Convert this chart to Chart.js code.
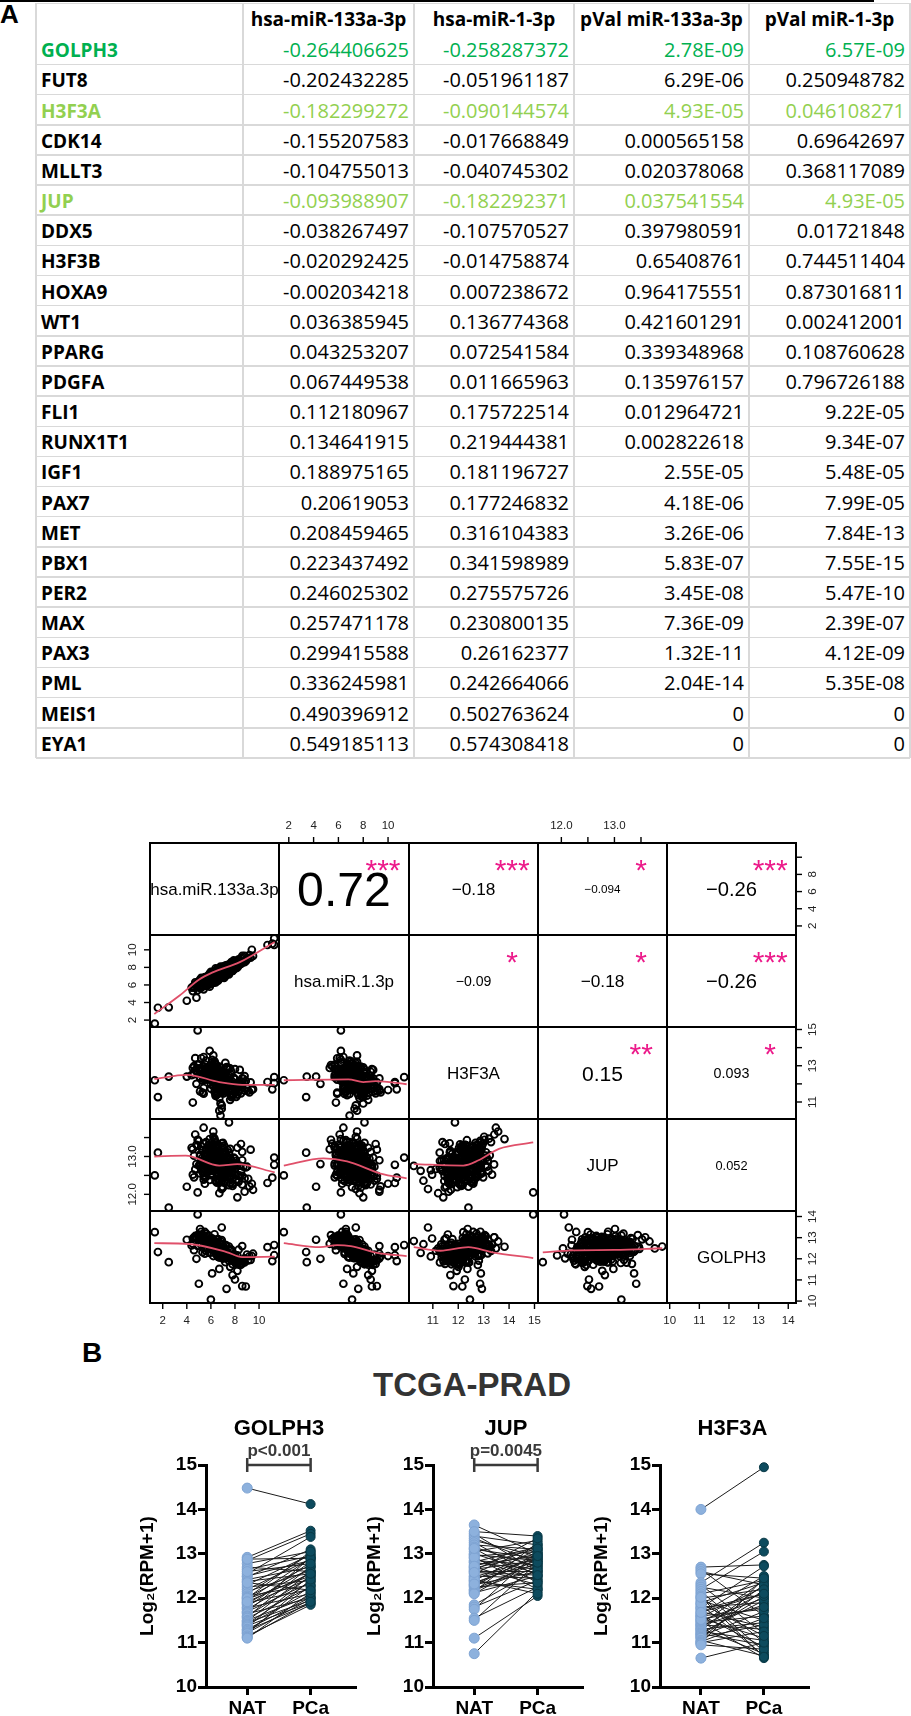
<!DOCTYPE html>
<html>
<head>
<meta charset="utf-8">
<title>miR-133a-3p / miR-1-3p targets</title>
<script src="https://cdn.jsdelivr.net/npm/chart.js@4.4.1/dist/chart.umd.min.js"></script>
<style>
  body { margin: 0; background: #fff; }
  #page { position: relative; width: 911px; height: 1716px; overflow: hidden; background: #fff; }
  #page canvas { position: absolute; }
  .gl { position: absolute; background: #d9d9d9; }
  .cell { position: absolute; font-family: "Open Sans", sans-serif; font-size: 20px; white-space: nowrap; color: #000; }
  .lab { position: absolute; font-family: "Liberation Sans", Arial, sans-serif; font-weight: bold; white-space: nowrap; }
</style>
</head>
<body>
<div id="page">
  <div class="lab" style="left:0;top:1px;font-size:26px;line-height:26px">A</div>
  <div class="lab" style="left:82px;top:1339px;font-size:28px;line-height:28px">B</div>
  <div class="lab" style="left:272px;top:1368px;width:400px;text-align:center;font-size:33px;line-height:33px;color:#333">TCGA-PRAD</div>
</div>
<script>
// ---------- table (panel A) ----------
const tableHead = ['', 'hsa-miR-133a-3p', 'hsa-miR-1-3p', 'pVal miR-133a-3p', 'pVal miR-1-3p'];
const genes = ['GOLPH3','FUT8','H3F3A','CDK14','MLLT3','JUP','DDX5','H3F3B','HOXA9','WT1','PPARG','PDGFA',
  'FLI1','RUNX1T1','IGF1','PAX7','MET','PBX1','PER2','MAX','PAX3','PML','MEIS1','EYA1'];
const r133 = ['-0.264406625','-0.202432285','-0.182299272','-0.155207583','-0.104755013','-0.093988907',
  '-0.038267497','-0.020292425','-0.002034218','0.036385945','0.043253207','0.067449538','0.112180967',
  '0.134641915','0.188975165','0.20619053','0.208459465','0.223437492','0.246025302','0.257471178',
  '0.299415588','0.336245981','0.490396912','0.549185113'];
const r1 = ['-0.258287372','-0.051961187','-0.090144574','-0.017668849','-0.040745302','-0.182292371',
  '-0.107570527','-0.014758874','0.007238672','0.136774368','0.072541584','0.011665963','0.175722514',
  '0.219444381','0.181196727','0.177246832','0.316104383','0.341598989','0.275575726','0.230800135',
  '0.26162377','0.242664066','0.502763624','0.574308418'];
const p133 = ['2.78E-09','6.29E-06','4.93E-05','0.000565158','0.020378068','0.037541554','0.397980591',
  '0.65408761','0.964175551','0.421601291','0.339348968','0.135976157','0.012964721','0.002822618',
  '2.55E-05','4.18E-06','3.26E-06','5.83E-07','3.45E-08','7.36E-09','1.32E-11','2.04E-14','0','0'];
const p1 = ['6.57E-09','0.250948782','0.046108271','0.69642697','0.368117089','4.93E-05','0.01721848',
  '0.744511404','0.873016811','0.002412001','0.108760628','0.796726188','9.22E-05','9.34E-07','5.48E-05',
  '7.99E-05','7.84E-13','7.55E-15','5.47E-10','2.39E-07','4.12E-09','5.35E-08','0','0'];
const highlight = { GOLPH3: '#00B050', H3F3A: '#92D050', JUP: '#92D050' };

// ---------- scatter matrix samples ----------
const varNames = ['hsa.miR.133a.3p', 'hsa.miR.1.3p', 'H3F3A', 'JUP', 'GOLPH3'];
const mir133a = [4.9,1.34,1.6,2.5,4.0,4.8,11.26,11.26,11.1,10.7,9.4,8.6,
  6.2,7.1,5.8,6.9,6.4,7.5,5.5,6.7,8.1,6.0, 7.3,6.6,5.2,7.8,6.3,6.8,5.9,7.0,6.5,8.4,
  4.7,6.1,7.2,6.9,5.6,7.6,6.4,6.2,8.8,5.4, 6.7,7.4,6.0,5.1,7.9,6.6,6.3,7.1,5.7,6.8,
  9.2,6.5,4.9,7.3,6.1,7.7,5.9,6.9,8.2,6.4, 5.3,7.0,6.6,7.5,6.2,5.8,8.0,6.7,4.5,7.2,
  6.3,6.9,5.6,7.8,6.5,6.0,8.6,7.1,5.5,6.8, 7.4,6.1,9.5,6.4,5.2,7.6,6.7,6.2,7.0,5.9,
  8.3,6.5,4.4,7.3,6.8,5.7,7.9,6.3,6.6,7.2, 5.4,8.5,6.9,6.0,7.5,6.4,5.0,7.7,6.1,6.7,
  8.0,5.8,7.1,6.5,4.6,6.9,7.4,6.2,8.9,5.6, 6.8,7.0,6.3,5.3,7.8,6.6,6.0,8.2,7.2,5.9,
  6.4,9.0,6.7,5.1,7.3,6.1,7.6,6.5,5.5,6.9,
  5.9,6.8,7.4,6.1,5.4,7.0,6.6,8.3,6.2,7.7, 6.5,5.6,7.2,6.9,4.8,6.3,7.9,6.0,7.1,5.7,
  8.6,6.7,6.4,5.2,7.5,6.8,6.1,7.3,5.9,9.1, 6.6,7.0,5.5,6.2,8.1,6.9,7.6,4.9,6.4,7.2,
  5.8,6.5,8.4,7.1,6.0,5.3,6.7,7.8,6.3,6.9, 7.4,6.1,5.6,8.0,6.6,7.0,4.6,6.8,7.5,6.2,
  5.9,7.3,6.4,8.7,5.1,6.7,7.1,6.0,7.9,6.5, 6.3,5.7,7.6,6.9,8.2,6.1,5.4,7.2,6.6,7.7,
  4.7,6.8,7.0,6.2,5.8,8.5,6.5,7.4,6.0,5.5, 7.1,6.4,9.3,5.9,6.9,7.5,6.3,5.2,7.8,6.7,
  6.1,7.3,5.6,6.6,8.1,7.0,6.2,4.5,7.6,6.8, 5.7,6.5,7.2,8.8,6.0,6.9,5.3,7.4,6.4,7.9,
  6.7,5.9,7.1,6.3,8.3,5.0,6.6,7.7,6.1,7.0, 6.8,7.5,5.4,6.2,7.3,8.0,6.5,5.8,6.9,7.2,
  6.4,7.6,6.0,5.5,8.6,6.7,7.1,6.3,5.1,7.8];
const mir1 = [6.2,1.6,3.4,3.45,4.2,4.55,11.3,10.55,10.7,10.55,10.0,9.3,
  7.2,7.1,6.7,8.0,6.8,7.2,6.7,7.3,8.1,7.5, 7.2,7.4,6.6,8.1,6.6,8.1,5.8,7.8,7.2,8.4,
  6.1,6.2,8.2,7.1,6.6,7.5,7.9,6.8,9.3,5.5, 7.1,8.2,6.2,6.6,7.8,7.2,7.5,6.8,6.7,7.1,
  9.4,6.5,6.1,8.2,6.6,7.7,7.3,7.3,8.7,6.5, 5.9,8.0,6.8,8.1,7.5,6.0,8.0,7.7,5.3,7.8,
  6.3,7.7,6.9,7.6,7.3,6.6,9.1,7.2,6.3,8.0, 7.3,7.1,9.3,7.1,5.7,8.4,6.7,7.4,7.2,6.8,
  8.2,7.8,5.7,7.6,6.9,6.9,8.3,6.7,7.7,7.1, 6.4,8.4,7.8,6.5,8.2,6.3,6.4,8.0,6.9,6.9,
  8.6,6.4,8.1,6.6,5.8,7.4,7.4,7.5,8.7,6.7, 6.8,7.9,7.1,6.5,8.4,6.9,7.1,8.0,8.0,6.2,
  7.5,8.9,7.5,5.7,7.3,7.2,8.1,6.9,6.9,7.1,
  7.0,6.9,8.0,7.4,5.9,7.6,6.5,8.9,6.7,8.6, 7.1,6.9,7.1,7.7,6.0,6.6,8.8,6.6,8.0,6.0,
  8.6,7.8,6.7,6.8,7.5,7.6,6.2,7.9,6.9,9.1, 7.8,7.2,6.1,7.3,7.9,7.5,8.3,5.4,7.2,7.0,
  7.1,6.7,8.8,7.5,7.3,5.9,7.7,7.6,7.0,7.7, 7.6,7.1,5.9,8.7,6.9,8.1,5.7,7.0,8.1,6.3,
  6.8,8.2,6.8,8.6,6.5,6.8,7.9,6.8,7.8,7.7, 6.7,6.9,7.8,7.9,8.4,6.2,6.5,7.8,6.8,8.3,
  6.3,7.2,7.9,6.4,6.7,9.0,6.8,8.3,6.5,6.7, 7.2,7.2,9.1,6.5,8.0,7.4,7.3,5.9,8.3,7.0,
  7.3,7.4,6.6,7.6,8.2,6.9,7.2,5.8,7.6,7.5, 6.2,7.6,7.6,8.6,6.9,7.2,6.6,8.1,6.5,8.3,
  7.6,6.2,7.8,6.9,8.9,5.7,7.8,7.6,6.8,7.9, 6.8,8.1,6.3,7.4,7.5,8.5,6.7,6.9,7.2,8.1,
  6.9,8.3,6.4,6.8,8.6,7.5,7.1,7.4,5.8,8.2];
const h3f3a = [14.95,12.2,11.27,12.4,12.4,12.0,12.37,12.04,11.7,12.1,11.66,12.3,
  12.41,12.03,12.68,11.92,12.27,11.64,13.08,12.19,11.83,12.52, 12.12,12.61,12.87,11.73,12.34,11.98,12.79,11.47,12.43,11.91,
  13.42,12.18,11.84,12.49,12.72,12.01,11.33,12.58,11.62,12.97, 12.29,11.88,12.83,12.37,11.42,12.09,13.21,11.79,12.54,12.22,
  11.53,12.69,12.57,12.04,12.91,11.68,12.31,10.63,11.94,12.39, 12.82,11.58,12.24,11.87,13.57,12.47,11.99,11.21,12.88,12.33,
  12.14,12.63,13.29,11.38,12.21,12.74,11.81,12.44,12.59,10.92, 11.97,12.51,11.71,12.28,12.84,11.12,12.36,13.02,11.89,12.62,
  11.61,12.23,12.48,12.93,10.25,12.78,11.86,12.32,12.07,11.74, 13.48,12.02,11.57,12.71,12.17,12.42,12.86,11.27,12.64,11.82,
  12.26,12.73,11.49,12.11,12.53,10.81,12.06,12.77,12.16,12.38, 11.93,12.19,13.12,12.56,11.69,12.3,12.46,11.41,12.0,13.82,
  12.67,11.78,10.52,12.35,12.13,12.89,11.63,12.26,12.6,11.96,
  12.58,11.74,12.91,12.13,11.46,12.37,12.82,11.93,12.24,12.67, 11.81,12.49,13.16,12.02,12.73,11.56,12.31,12.88,11.67,12.44,
  12.09,12.96,11.38,12.53,12.21,11.89,13.33,12.16,12.71,11.62, 12.84,11.97,12.39,12.62,11.28,12.27,12.05,13.04,11.78,12.46,
  12.33,11.69,12.77,12.19,12.93,11.52,12.41,12.11,13.24,11.86, 11.92,12.56,12.23,12.81,11.44,12.68,12.98,12.07,11.73,12.35,
  12.62,11.83,13.09,12.28,11.59,12.45,12.15,12.74,11.96,12.52, 12.18,12.87,11.64,12.4,12.03,13.19,11.77,12.29,12.64,11.35,
  12.76,12.12,12.49,11.87,12.58,11.48,12.94,12.25,11.99,12.69, 11.71,12.36,12.08,12.83,11.55,12.21,12.66,13.41,12.01,11.8,
  12.47,11.9,12.72,12.14,11.63,12.55,12.32,10.97,12.85,12.1, 12.27,12.61,11.76,12.43,12.95,11.66,12.18,12.79,11.45,12.34,
  11.84,12.7,12.06,12.51,11.58,13.07,12.39,11.95,12.63,12.2, 12.89,11.68,12.26,12.97,12.04,11.51,12.75,12.3,11.82,12.57,
  12.15,12.42,11.73,12.86,11.94,12.6,12.0,13.14,12.37,11.61];
const jup = [12.05,12.5,13.1,11.65,12.2,12.8,12.97,12.78,12.44,12.3,12.28,12.9,
  12.93,12.57,13.14,12.68,13.31,12.46,13.02,12.84,12.39,13.22, 12.71,13.05,12.88,12.27,13.43,12.62,13.09,12.18,12.95,12.76,
  13.58,12.81,12.53,12.99,13.17,12.44,12.66,12.92,12.07,13.34, 12.63,12.48,13.24,13.01,12.79,12.86,13.47,12.32,12.83,12.72,
  12.21,13.12,13.28,12.58,12.94,12.69,13.04,12.36,12.77,13.08, 12.97,12.42,12.91,13.9,13.66,13.13,12.82,12.03,13.19,12.87,
  12.74,13.03,13.38,12.61,12.78,13.21,12.49,12.89,12.28,12.64, 12.85,13.11,12.12,12.93,13.27,12.67,12.98,13.52,12.59,12.9,
  12.33,12.8,13.23,12.56,12.75,13.06,12.73,12.87,13.32,12.47, 13.76,12.6,12.96,13.1,12.24,12.84,13.41,12.7,13.0,12.38,
  12.52,13.18,12.79,12.91,13.02,12.14,12.65,13.29,12.71,13.07, 12.88,12.43,12.97,13.16,12.82,12.55,13.13,11.92,12.69,13.46,
  13.09,12.73,12.62,12.81,12.51,13.37,12.29,12.99,12.86,12.19,
  12.94,12.61,13.17,12.72,12.49,13.08,12.83,12.36,13.25,12.77, 12.58,13.02,12.89,12.43,13.31,12.68,12.97,12.54,13.12,12.81,
  12.26,12.92,13.38,12.65,12.85,13.05,12.52,12.99,12.74,12.41, 13.21,12.79,12.57,13.1,12.88,12.34,12.96,13.44,12.63,12.9,
  12.71,13.15,12.47,12.86,13.27,12.59,12.8,12.22,13.03,12.76, 12.95,12.5,13.19,12.67,12.91,13.36,12.45,12.84,12.6,13.07,
  12.38,12.87,13.11,12.73,12.55,12.99,13.29,12.64,12.82,12.31, 13.06,12.7,12.93,12.48,13.23,12.62,12.78,13.14,12.4,12.89,
  12.66,13.01,12.53,12.97,12.75,13.33,12.58,12.85,13.09,12.44, 12.83,12.37,13.18,12.69,12.92,12.56,13.04,12.79,12.29,12.98,
  13.13,12.74,12.46,13.26,12.81,12.61,12.95,12.52,13.2,12.7, 12.57,12.9,13.07,12.42,12.86,13.35,12.68,12.99,12.35,12.8,
  12.97,12.63,12.84,13.16,12.51,12.76,13.02,12.47,12.91,13.24, 12.72,13.1,12.39,12.88,12.6,12.94,12.54,13.3,12.78,12.65,
  13.0,12.45,12.87,12.69,13.12,12.33,12.96,12.73,13.05,12.58];
const golph3 = [14.1,13.26,12.32,11.84,12.9,12.0,12.65,12.17,11.89,12.55,12.13,12.6,
  12.72,12.31,12.88,12.18,12.63,12.04,13.07,12.42,11.81,12.79, 12.13,12.52,13.28,11.74,12.57,12.36,12.83,12.22,12.91,11.93,
  13.02,12.64,12.27,12.48,13.19,11.62,12.68,12.39,12.02,12.94, 12.33,12.17,12.81,13.41,11.88,12.59,12.47,12.08,12.74,12.44,
  12.12,12.78,12.61,12.29,12.97,12.01,12.53,12.69,11.43,12.23, 12.86,12.41,12.09,12.58,12.82,13.11,12.19,12.49,12.71,11.84,
  12.62,12.89,12.37,12.21,12.32,12.73,10.71,12.54,13.27,12.11, 12.03,12.46,12.24,12.77,12.67,12.38,11.52,12.92,12.56,12.28,
  12.43,12.18,12.63,10.58,12.84,12.51,12.14,13.16,12.37,12.66, 12.49,11.72,12.34,12.87,11.91,12.61,10.82,12.44,12.7,12.06,
  11.02,12.79,12.22,12.59,12.41,13.48,12.26,12.13,10.69,12.73, 12.52,12.01,12.68,12.31,11.23,12.93,10.07,12.16,12.39,12.57,
  12.81,12.2,12.28,12.96,12.62,11.31,12.42,12.47,12.24,12.64,
  12.76,12.39,12.18,12.62,12.91,12.28,12.54,11.96,12.69,12.12, 12.47,12.83,12.26,12.35,12.98,12.58,11.87,12.72,12.21,12.88,
  11.78,12.44,12.6,13.06,12.09,12.37,12.67,12.19,12.81,11.92, 12.51,12.31,12.94,12.63,11.83,12.42,12.14,13.12,12.56,12.27,
  12.85,12.5,11.71,12.24,12.77,12.97,12.45,12.02,12.61,12.38, 12.16,12.66,12.89,11.91,12.48,12.33,13.02,12.41,12.11,12.7,
  12.79,12.22,12.57,11.86,13.15,12.46,12.28,12.73,11.98,12.52, 12.59,12.87,12.13,12.4,11.82,12.68,12.93,12.25,12.49,12.07,
  13.08,12.36,12.3,12.64,12.82,11.76,12.53,12.17,12.71,12.9, 12.26,12.58,11.95,12.78,12.39,12.1,12.62,13.01,11.99,12.44,
  12.69,12.2,12.86,12.5,11.88,12.32,12.65,12.96,12.15,12.41, 12.84,12.53,12.24,11.83,12.74,12.37,12.99,12.19,12.57,11.94,
  12.47,12.8,12.27,12.61,11.9,13.04,12.52,12.06,12.68,12.33, 12.43,12.12,12.92,12.63,12.23,11.97,12.55,12.79,12.38,12.25,
  12.59,12.14,12.75,12.88,11.8,12.46,12.29,12.6,12.97,12.03];
const vars = [mir133a, mir1, h3f3a, jup, golph3];

// smoother lines: [x, y]
const smooth_1_0 = [[1.3,2.7],[3.4,4.8],[5,6.6],[6.1,7.4],[8.4,8.6],[11.3,10.9]];
const smooth_2_0 = [[1.3,12.27],[4.0,12.5],[6.7,12.1],[8.6,11.95],[11.3,11.95]];
const smooth_2_1 = [[1.6,12.2],[6.8,12.25],[8.0,12.1],[9.0,12.15],[11.5,11.98]];
const smooth_3_0 = [[1.3,13.0],[3.9,13.02],[6.7,12.76],[8.2,12.8],[11.3,12.58]];
const smooth_3_1 = [[1.6,12.76],[4.8,12.95],[6.7,12.87],[9.4,12.55],[11.5,12.42]];
const smooth_3_2 = [[10.25,12.8],[12.2,12.76],[12.8,12.9],[13.6,13.2],[14.95,13.37]];
const smooth_4_0 = [[1.3,12.74],[4.2,12.7],[7.3,12.32],[8.6,12.08],[11.3,12.1]];
const smooth_4_1 = [[1.6,12.74],[4.5,12.55],[5.9,12.65],[7.0,12.6],[9.2,12.27],[11.5,12.13]];
const smooth_4_2 = [[10.25,12.55],[11.3,12.38],[12.4,12.55],[13.3,12.32],[14.95,12.03]];
const smooth_4_3 = [[11.65,12.3],[12.2,12.4],[13.0,12.42],[13.9,12.5]];
const smoothers = { '1,0': smooth_1_0, '2,0': smooth_2_0, '2,1': smooth_2_1, '3,0': smooth_3_0, '3,1': smooth_3_1,
  '3,2': smooth_3_2, '4,0': smooth_4_0, '4,1': smooth_4_1, '4,2': smooth_4_2, '4,3': smooth_4_3 };

const corrPairs = [[0,1],[0,2],[0,3],[0,4],[1,2],[1,3],[1,4],[2,3],[2,4],[3,4]];
const corrVal = [0.72, -0.18, -0.094, -0.26, -0.09, -0.18, -0.26, 0.15, 0.093, 0.052];
const corrStars = ['***', '***', '*', '***', '*', '*', '***', '**', '*', ''];

const tickVals = [[2,4,6,8,10], [2,4,6,8,10], [11,12,13,14,15], [12,12.5,13,13.5], [10,11,12,13,14]];
const tickTextH = [['2','4','6','8','10'], ['2','4','6','8','10'], ['11','12','13','14','15'], ['12.0','','13.0',''], ['10','11','12','13','14']];
const tickTextV = [['2','4','6','8',''], ['2','4','6','8','10'], ['11','','13','','15'], ['12.0','','13.0',''], ['10','11','12','13','14']];

// ---------- paired plots (panel B) ----------
const groups = ['NAT', 'PCa'];
const bGenes = ['GOLPH3', 'JUP', 'H3F3A'];
const bPvals = ['p<0.001', 'p=0.0045', ''];
const golph3NAT = [14.48,12.92,12.85,12.78,12.7,12.65,12.55,12.5,12.48,12.42,12.38,12.3,12.25,12.2,12.15,12.1,12.05,12.02,
  11.98,11.95,11.9,11.88,11.85,11.8,11.78,11.75,11.7,11.68,11.65,11.6,11.58,11.55,11.5,11.48,11.45,11.42,11.4,11.38,11.35,
  11.3,11.28,11.25,11.22,11.2,11.15,11.12,11.1,12.88,12.6,12.35,12.0,11.92];
const golph3PCa = [14.12,13.52,13.45,13.05,12.6,12.95,13.38,12.85,13.1,12.7,12.55,12.98,12.4,12.88,12.62,13.0,12.3,12.75,
  12.5,12.9,12.2,12.68,12.45,12.82,12.1,12.58,12.35,12.92,12.0,12.48,12.72,12.25,12.05,12.6,11.95,12.38,12.15,11.9,12.52,
  12.02,11.88,12.28,11.98,12.42,11.85,11.92,12.12,12.9,12.78,12.18,13.05,12.55];
const jupNAT = [13.65,13.45,13.4,13.35,13.3,13.25,13.2,13.15,13.1,13.05,13.0,12.98,12.95,12.9,12.85,12.82,12.8,12.75,12.7,
  12.68,12.65,12.6,12.55,12.5,12.48,12.45,12.4,12.38,12.35,12.3,12.28,12.25,12.2,12.18,12.15,12.12,12.1,11.85,11.8,11.75,
  11.55,11.5,11.1,10.75,13.5,12.92,12.62,12.42,13.12,12.72,12.32,12.58];
const jupPCa = [13.0,12.6,13.2,12.8,12.95,12.5,13.1,12.7,12.9,13.3,12.55,12.85,13.05,12.4,12.75,13.15,12.65,12.95,12.3,13.0,
  12.85,12.6,13.2,12.45,12.9,12.75,13.1,12.2,12.85,12.6,13.0,12.35,12.8,12.7,13.25,12.5,12.9,12.65,12.4,13.05,12.25,12.8,
  12.05,12.15,13.4,12.2,13.35,12.1,12.35,13.12,12.95,12.52];
const h3f3aNAT = [14.0,12.7,12.65,12.6,12.55,12.35,12.3,12.25,12.2,12.15,12.1,12.05,12.0,11.95,11.9,11.85,11.8,11.75,11.7,
  11.65,11.62,11.6,11.58,11.55,11.5,11.48,11.45,11.42,11.4,11.38,11.35,11.32,11.3,11.28,11.25,11.22,11.2,11.18,11.15,11.12,
  11.1,11.05,11.02,11.0,10.98,10.95,10.65,11.78,11.52,11.88,12.02,11.68];
const h3f3aPCa = [14.95,12.75,11.6,12.3,12.45,13.25,11.2,12.0,13.05,11.0,12.4,10.8,12.2,11.5,12.35,10.7,11.9,12.1,11.35,12.5,
  10.9,11.75,12.25,11.1,12.0,10.65,11.6,12.4,11.3,11.85,12.15,10.75,11.45,12.3,11.05,11.95,10.95,12.05,11.7,11.4,12.2,10.7,
  11.55,11.25,12.45,10.85,11.0,12.72,11.8,11.15,10.68,12.1];
const bNAT = [golph3NAT, jupNAT, h3f3aNAT];
const bPCa = [golph3PCa, jupPCa, h3f3aPCa];

// ---------- page helpers ----------
const page = document.getElementById('page');
Chart.defaults.font.family = '"Liberation Sans", Arial, sans-serif';
Chart.defaults.animation = false;

function addDiv(cls, css, text) {
  const d = document.createElement('div');
  if (cls) d.className = cls;
  for (const k in css) d.style[k] = typeof css[k] === 'number' ? css[k] + 'px' : css[k];
  if (text !== undefined) d.textContent = text;
  page.appendChild(d);
  return d;
}
function mkCanvas(left, top, w, h) {
  const c = document.createElement('canvas');
  c.width = w; c.height = h;
  Object.assign(c.style, { left: left + 'px', top: top + 'px', width: w + 'px', height: h + 'px' });
  page.appendChild(c);
  return c;
}

// ---------- table ----------
const colEdge = [36, 243, 414, 574, 749, 910];
const rowTop = 34.3, rowH = 30.15;
const tableBottom = rowTop + genes.length * rowH;
addDiv('gl', { left: 36, top: 2.5, width: 874, height: 1.5 });
for (let i = 1; i <= genes.length; i++) addDiv('gl', { left: 36, top: rowTop + i * rowH - 0.75, width: 874, height: 1.5 });
colEdge.forEach(x => addDiv('gl', { left: x - 0.75, top: 2.5, width: 1.5, height: tableBottom - 2.5 }));
addDiv('', { left: 36, top: 32.3, width: 874, height: 2.2, background: '#000' });

tableHead.forEach((t, c) => {
  if (!t) return;
  addDiv('cell', { left: colEdge[c], top: 4.5, width: colEdge[c + 1] - colEdge[c], height: 28, lineHeight: '28px',
    textAlign: 'center', fontWeight: 'bold', fontSize: '19px' }, t);
});
const tableCols = [genes, r133, r1, p133, p1];
genes.forEach((g, i) => {
  const top = rowTop + i * rowH + 1;
  const color = highlight[g] || '#000';
  tableCols.forEach((col, c) => {
    const css = { top: top, height: rowH, lineHeight: rowH + 'px', color: color };
    if (c === 0) Object.assign(css, { left: colEdge[0] + 5, fontWeight: 'bold', fontSize: '19px' });
    else Object.assign(css, { left: colEdge[c], width: colEdge[c + 1] - colEdge[c] - 5, textAlign: 'right' });
    addDiv('cell', css, col[i]);
  });
});

// ---------- scatter matrix ----------
const M = 34;
const colX = [150, 279, 409, 538, 667, 796];
const rowY = [843, 935, 1027, 1119, 1211, 1303];
function range(v) {
  const lo = Math.min(...v), hi = Math.max(...v), pad = (hi - lo) * 0.04;
  return [lo - pad, hi + pad];
}
const ranges = vars.map(range);

const panelDeco = {
  id: 'panelDeco',
  afterDatasetsDraw(chart, args, o) {
    const { ctx, chartArea: a, scales } = chart;
    const W = a.right - a.left, H = a.bottom - a.top;
    const cx = (a.left + a.right) / 2, cy = (a.top + a.bottom) / 2;
    ctx.save();
    ctx.strokeStyle = '#000'; ctx.lineWidth = 2;
    ctx.strokeRect(a.left, a.top, W, H);
    ctx.fillStyle = '#000'; ctx.textAlign = 'center'; ctx.textBaseline = 'alphabetic';
    if (o.name) {
      ctx.font = '17px "Liberation Sans"';
      ctx.fillText(o.name, cx, cy + 6);
    }
    if (o.corrLabel) {
      ctx.font = '100px "Liberation Sans"';
      const fs = 100 * (0.92 * (Math.abs(o.corr) + 0.3) / 1.3 * W) / ctx.measureText(o.corrLabel).width;
      ctx.font = fs.toFixed(1) + 'px "Liberation Sans"';
      ctx.fillText(o.corrLabel, cx, cy + 0.358 * fs);
      if (o.star) {
        ctx.fillStyle = '#EC1A8A';
        ctx.font = '30px "Liberation Sans"';
        ctx.fillText(o.star, a.left + 0.8 * W, a.top + 20 + 0.58 * 30);
      }
    }
    (o.axes || []).forEach(ax => {
      const horiz = ax.side === 'top' || ax.side === 'bottom';
      const sc = horiz ? scales.x : scales.y;
      const vals = tickVals[ax.v], labs = (horiz ? tickTextH : tickTextV)[ax.v];
      ctx.strokeStyle = '#000'; ctx.lineWidth = 1.4; ctx.fillStyle = '#222';
      ctx.font = '11.5px "Liberation Sans"'; ctx.textBaseline = 'middle'; ctx.textAlign = 'center';
      vals.forEach((v, i) => {
        const p = sc.getPixelForValue(v);
        ctx.beginPath();
        if (ax.side === 'top') { ctx.moveTo(p, a.top); ctx.lineTo(p, a.top - 6); }
        if (ax.side === 'bottom') { ctx.moveTo(p, a.bottom); ctx.lineTo(p, a.bottom + 6); }
        if (ax.side === 'left') { ctx.moveTo(a.left, p); ctx.lineTo(a.left - 6, p); }
        if (ax.side === 'right') { ctx.moveTo(a.right, p); ctx.lineTo(a.right + 6, p); }
        ctx.stroke();
        if (!labs[i]) return;
        if (horiz) {
          ctx.fillText(labs[i], p, ax.side === 'top' ? a.top - 17 : a.bottom + 18);
        } else {
          ctx.save();
          ctx.translate(ax.side === 'left' ? a.left - 17 : a.right + 17, p);
          ctx.rotate(-Math.PI / 2);
          ctx.fillText(labs[i], 0, 0);
          ctx.restore();
        }
      });
    });
    ctx.restore();
  }
};

for (let r = 0; r < 5; r++) {
  for (let c = 0; c < 5; c++) {
    const x0 = colX[c], y0 = rowY[r], w = colX[c + 1] - x0, h = rowY[r + 1] - y0;
    const cv = mkCanvas(x0 - M, y0 - M, w + 2 * M, h + 2 * M);
    const deco = { axes: [] };
    if (r === 0 && c % 2 === 1) deco.axes.push({ side: 'top', v: c });
    if (r === 4 && c % 2 === 0) deco.axes.push({ side: 'bottom', v: c });
    if (c === 0 && r % 2 === 1) deco.axes.push({ side: 'left', v: r });
    if (c === 4 && r % 2 === 0) deco.axes.push({ side: 'right', v: r });
    const datasets = [];
    if (r === c) deco.name = varNames[r];
    if (r < c) {
      const k = corrPairs.findIndex(p => p[0] === r && p[1] === c);
      deco.corr = corrVal[k];
      deco.corrLabel = String(corrVal[k]).replace('-', '\u2212');
      deco.star = corrStars[k];
    }
    if (r > c) {
      datasets.push({
        type: 'line', data: smoothers[r + ',' + c].map(p => ({ x: p[0], y: p[1] })),
        borderColor: '#E0506A', borderWidth: 1.8, pointRadius: 0, cubicInterpolationMode: 'monotone', order: 0, clip: 0
      });
      datasets.push({
        type: 'scatter', data: vars[c].map((v, i) => ({ x: v, y: vars[r][i] })),
        pointRadius: 3.4, borderWidth: 1.9, borderColor: '#000', backgroundColor: 'rgba(0,0,0,0)', order: 1, clip: 0
      });
    }
    new Chart(cv, {
      type: 'scatter',
      data: { datasets },
      options: {
        responsive: false, events: [],
        layout: { padding: M },
        plugins: { legend: { display: false }, tooltip: { enabled: false }, panelDeco: deco },
        scales: {
          x: { type: 'linear', display: false, min: ranges[c][0], max: ranges[c][1] },
          y: { type: 'linear', display: false, min: ranges[r][0], max: ranges[r][1] }
        }
      },
      plugins: [panelDeco]
    });
  }
}

// ---------- paired plots ----------
const bAxisX = [206, 433, 660];
const bAxisEnd = [355, 582, 808];
const bTop = 1400, bH = 316;
const bold19 = { family: '"Liberation Sans", Arial, sans-serif', size: 19, weight: 'bold' };

const bracket = {
  id: 'bracket',
  afterDraw(chart, args, o) {
    const { ctx, scales: { x, y } } = chart;
    const x0 = x.getPixelForValue(0), x1 = x.getPixelForValue(1), yb = y.getPixelForValue(15);
    const xc = (x0 + x1) / 2;
    ctx.save();
    ctx.textAlign = 'center'; ctx.textBaseline = 'middle';
    ctx.fillStyle = '#000';
    ctx.font = 'bold 22px "Liberation Sans"';
    ctx.fillText(o.title, xc, yb - 36);
    if (o.p) {
      ctx.strokeStyle = '#3a3a3a'; ctx.lineWidth = 2.5;
      ctx.beginPath();
      ctx.moveTo(x0, yb); ctx.lineTo(x1, yb);
      ctx.moveTo(x0, yb - 7); ctx.lineTo(x0, yb + 7);
      ctx.moveTo(x1, yb - 7); ctx.lineTo(x1, yb + 7);
      ctx.stroke();
      ctx.fillStyle = '#3a3a3a';
      ctx.font = 'bold 17px "Liberation Sans"';
      ctx.fillText(o.p, xc, yb - 14);
    }
    ctx.restore();
  }
};

bGenes.forEach((g, k) => {
  const left = bAxisX[k] - 70, w = bAxisEnd[k] - left + 6;
  const cv = mkCanvas(left, bTop, w, bH);
  const nat = bNAT[k], pca = bPCa[k];
  const datasets = [
    { data: nat.map(v => ({ x: 0, y: v })), backgroundColor: '#8DB1DD', borderColor: '#7EA3D2', borderWidth: 1,
      pointRadius: 5, order: 0, clip: false },
    { data: pca.map(v => ({ x: 1, y: v })), backgroundColor: '#0D4B5E', borderColor: '#083845', borderWidth: 1,
      pointRadius: 4.5, order: 0, clip: false }
  ];
  nat.forEach((v, i) => datasets.push({
    type: 'line', data: [{ x: 0, y: v }, { x: 1, y: pca[i] }],
    borderColor: '#1b1b1b', borderWidth: 1, pointRadius: 0, order: 1
  }));
  new Chart(cv, {
    type: 'scatter',
    data: { datasets },
    options: {
      responsive: false, events: [],
      layout: { padding: { left: 0, right: 6, top: 65, bottom: 0 } },
      plugins: { legend: { display: false }, tooltip: { enabled: false }, bracket: { title: g, p: bPvals[k] } },
      scales: {
        x: {
          type: 'linear', min: -0.65, max: 1.7,
          afterBuildTicks: s => { s.ticks = [{ value: 0 }, { value: 1 }]; },
          afterFit: s => { s.height = 29; },
          ticks: { callback: v => groups[v], font: bold19, color: '#000', padding: 2, maxRotation: 0, autoSkip: false },
          grid: { drawOnChartArea: false, tickLength: 8, color: '#000', lineWidth: 3 },
          border: { color: '#000', width: 3 }
        },
        y: {
          min: 10, max: 15,
          afterFit: s => { s.width = 70; },
          ticks: { stepSize: 1, font: bold19, color: '#000', padding: 1 },
          grid: { drawOnChartArea: false, tickLength: 8, color: '#000', lineWidth: 3 },
          border: { color: '#000', width: 3 },
          title: { display: true, text: 'Log\u2082(RPM+1)', font: bold19, color: '#000', padding: 0 }
        }
      }
    },
    plugins: [bracket]
  });
});
</script>
</body>
</html>
